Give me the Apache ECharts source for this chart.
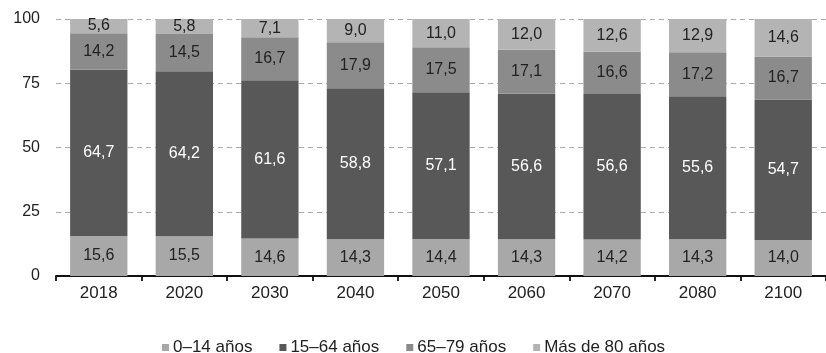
<!DOCTYPE html>
<html><head><meta charset="utf-8">
<script src="https://cdn.jsdelivr.net/npm/echarts@6/dist/echarts.min.js"></script>
<style>html,body{margin:0;padding:0;background:#fff}#c{width:826px;height:353px}</style>
</head><body><div id="c"></div>
<script>
const categories = ['2018','2020','2030','2040','2050','2060','2070','2080','2100'];
const age0_14 = [15.6,15.5,14.6,14.3,14.4,14.3,14.2,14.3,14.0];
const age15_64 = [64.7,64.2,61.6,58.8,57.1,56.6,56.6,55.6,54.7];
const age65_79 = [14.2,14.5,16.7,17.9,17.5,17.1,16.6,17.2,16.7];
const age80 = [5.6,5.8,7.1,9.0,11.0,12.0,12.6,12.9,14.6];
const seriesNames = ['0–14 años','15–64 años','65–79 años','Más de 80 años'];
const yTicks = [0,25,50,75,100];

const FONT = 'Liberation Sans, Arial, sans-serif';
const colors = ['#a8a8a8','#585858','#8b8b8b','#b4b4b4'];
const labelColors = ['#222','#fff','#222','#222'];
const fmt = v => v.value.toFixed(1).replace('.', ',');
const datas = [age0_14, age15_64, age65_79, age80];

const chart = echarts.init(document.getElementById('c'));
chart.setOption({
  animation:false,
  color: colors,
  grid:{left:56, right:-5, top:19, bottom:77},
  legend:{
    top:334, left:157, itemWidth:7, itemHeight:7, itemGap:27,
    icon:'rect',
    textStyle:{fontFamily:FONT, fontSize:17, color:'#222', padding:[0,0,0,-1]},
    data: seriesNames
  },
  xAxis:{
    type:'category', data:categories,
    axisLine:{lineStyle:{color:'#111', width:1.8}},
    axisTick:{show:true, length:5, lineStyle:{color:'#111', width:1.8}},
    axisLabel:{fontFamily:FONT, fontSize:17, color:'#222', margin:9}
  },
  yAxis:{
    type:'value', min:yTicks[0], max:yTicks[yTicks.length-1], interval:25,
    axisLine:{show:false}, axisTick:{show:false},
    axisLabel:{fontFamily:FONT, fontSize:16, color:'#222', margin:16},
    splitLine:{lineStyle:{color:'#aaa', type:[5,4], width:1}}
  },
  series: datas.map((d,i)=>({
    name:seriesNames[i], type:'bar', stack:'a', data:d,
    barCategoryGap:'33%',
    itemStyle:{color:colors[i]},
    label:{show:true, position:'inside', formatter:fmt,
      fontFamily:FONT, fontSize:16, color:labelColors[i]}
  }))
});
</script></body></html>
